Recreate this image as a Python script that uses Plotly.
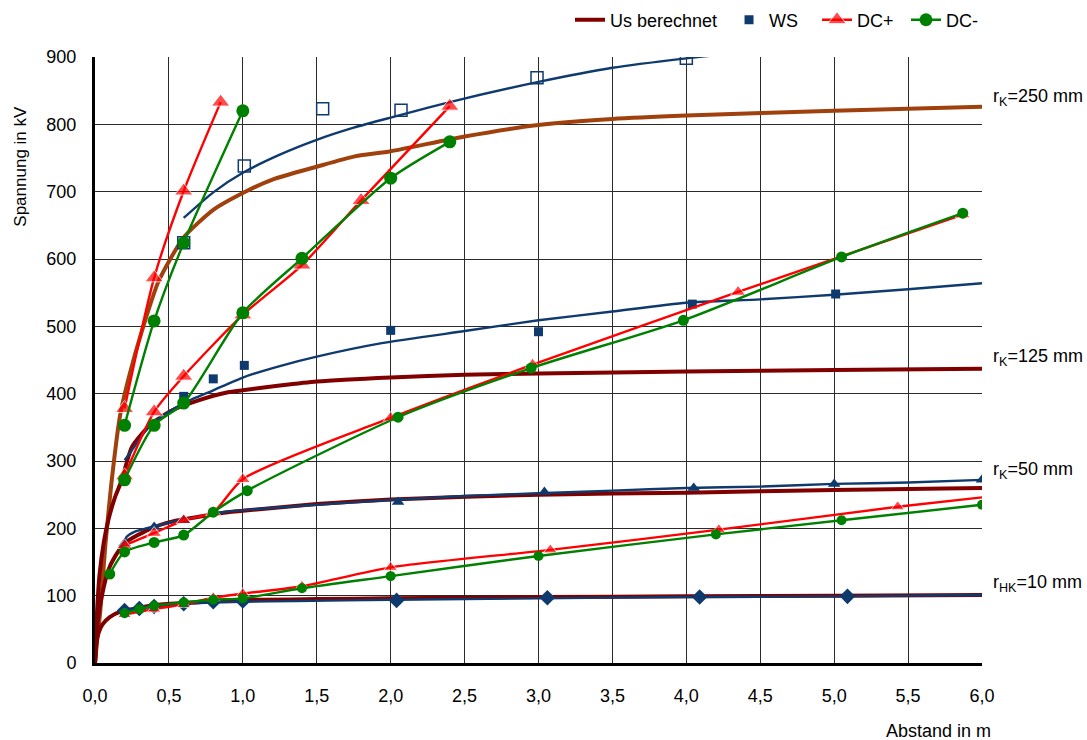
import plotly.graph_objects as go

# ---- calculated breakdown voltage "Us berechnet" for the four electrode radii ----
us250_x = [0, 0.015, 0.035, 0.07, 0.11, 0.17, 0.23, 0.32, 0.43, 0.6, 0.8, 1.0, 1.2, 1.5, 1.75, 2.0, 2.5, 3.0, 3.5, 4.0, 5.0, 6.0]
us250_y = [0, 35, 75, 175, 265, 368, 425, 495, 567, 632, 673, 698, 718, 737, 752, 760, 782, 799, 808, 813, 820, 826]
us125_x = [0, 0.01, 0.03, 0.06, 0.09, 0.135, 0.18, 0.25, 0.38, 0.52, 0.7, 0.9, 1.0, 1.25, 1.5, 2.0, 2.5, 3.0, 4.0, 5.0, 6.0]
us125_y = [0, 60, 130, 180, 212, 246, 271, 321, 355, 375, 390, 402, 405, 412, 418, 424, 428, 430, 433, 435, 437]
us50_x = [0, 0.01, 0.02, 0.045, 0.09, 0.135, 0.2, 0.38, 0.52, 0.9, 1.0, 1.5, 2.0, 3.0, 4.0, 5.0, 6.0]
us50_y = [0, 40, 65, 98, 138, 158, 178, 200, 210, 224, 226, 236, 243, 250, 253, 257, 260]
us10_x = [0, 0.01, 0.025, 0.05, 0.1, 0.18, 0.3, 0.41, 0.6, 0.9, 1.5, 2.0, 3.0, 4.0, 5.0, 6.0]
us10_y = [0, 30, 45, 57, 68, 77, 82, 86, 89, 93, 95, 96, 98, 99, 100, 101]

# ---- AC (WS) fitted curves ----
ws250_fit_x = [0.6, 0.8, 1.0, 1.25, 1.5, 1.75, 2.0, 2.4, 3.0, 3.5, 4.0, 4.3]
ws250_fit_y = [661, 699, 728, 755, 777, 795, 810, 833, 863, 884, 898, 905]
ws125_fit_x = [0.2, 0.25, 0.38, 0.6, 0.8, 1.0, 1.25, 1.5, 1.94, 2.5, 3.0, 3.5, 4.0, 4.5, 5.0, 5.5, 6.0]
ws125_fit_y = [301, 316, 355, 386, 405, 424, 441, 455, 475, 493, 509, 522, 535, 540, 547, 555, 564]
ws50_fit_x = [0.2, 0.213, 0.27, 0.4, 0.58, 0.9, 1.0, 1.5, 2.0, 2.5, 3.0, 3.5, 4.0, 4.5, 5.0, 5.5, 6.0]
ws50_fit_y = [177, 187, 195, 203, 212, 225, 227, 235, 242, 248, 252, 256, 260, 262, 266, 268, 272]
ws10_fit_x = [0.2, 0.6, 1.0, 1.36, 2.0, 3.0, 4.0, 5.0, 6.0]
ws10_fit_y = [79, 88, 91, 92, 94, 96, 98, 99, 101]

# ---- AC (WS) measurements ----
ws250_x = [0.6, 1.01, 1.54, 2.07, 2.99, 4.0]
ws250_y = [624, 738, 823, 821, 869, 898]
ws125_x = [0.6, 0.8, 1.01, 2.0, 3.0, 4.04, 5.01]
ws125_y = [396, 422, 442, 494, 492, 533, 548]
ws50_x = [0.2, 0.4, 0.6, 2.05, 3.04, 4.05, 5.0, 6.0]
ws50_y = [178, 202, 212, 239, 254, 260, 266, 272]
ws10_x = [0.2, 0.3, 0.4, 0.6, 0.8, 1.0, 2.04, 3.06, 4.09, 5.09]
ws10_y = [78, 81, 84, 88, 91, 92, 93, 97, 98, 99]

# ---- DC+ measurements ----
dcp250_x = [0.2, 0.4, 0.6, 0.85]
dcp250_y = [378, 572, 701, 833]
dcp125_x = [0.2, 0.4, 0.6, 1.0, 1.4, 1.8, 2.4]
dcp125_y = [278, 373, 426, 517, 591, 687, 827]
dcp50_x = [0.2, 0.4, 0.6, 0.8, 1.0, 2.0, 2.96, 4.35, 5.87]
dcp50_y = [175, 193, 212, 224, 273, 364, 443, 551, 666]
dcp10_x = [0.2, 0.4, 0.6, 0.8, 1.0, 1.4, 2.0, 3.08, 4.22, 5.43, 6.0]
dcp10_y = [72, 80, 87, 97, 103, 114, 142, 168, 198, 232, 246]

# ---- DC- measurements ----
dcm250_x = [0.2, 0.4, 0.6, 1.0]
dcm250_y = [353, 508, 624, 820]
dcm125_x = [0.2, 0.4, 0.6, 1.0, 1.4, 2.0, 2.4]
dcm125_y = [272, 353, 386, 520, 601, 720, 774]
dcm50_x = [0.1, 0.2, 0.4, 0.6, 0.8, 1.03, 2.05, 2.95, 3.98, 5.05, 5.87]
dcm50_y = [132, 165, 179, 190, 224, 256, 365, 438, 509, 603, 668]
dcm10_x = [0.2, 0.3, 0.4, 0.6, 0.8, 1.0, 1.4, 2.0, 3.0, 4.2, 5.05, 6.0]
dcm10_y = [74, 80, 85, 90, 94, 96, 111, 129, 159, 191, 212, 235]

x_ticks = [0, 0.5, 1, 1.5, 2, 2.5, 3, 3.5, 4, 4.5, 5, 5.5, 6]
y_ticks = [0, 100, 200, 300, 400, 500, 600, 700, 800, 900]
curve_labels = ["r<sub>K</sub>=250 mm", "r<sub>K</sub>=125 mm", "r<sub>K</sub>=50 mm", "r<sub>HK</sub>=10 mm"]
curve_label_y = [840, 454, 286, 118]

FONT = "Liberation Sans, Arial, sans-serif"
BROWN = "#A0400C"
DARKRED = "#800000"
NAVY = "#0F3A6E"
RED = "#FF0000"
GREEN = "#008000"

fig = go.Figure()

# calculated curves
fig.add_trace(go.Scatter(x=us250_x, y=us250_y, mode="lines", name="Us berechnet",
                         line=dict(color=BROWN, width=4, shape="spline", smoothing=0.6),
                         showlegend=False, legendgroup="us"))
for i, (xs, ys) in enumerate([(us125_x, us125_y), (us50_x, us50_y), (us10_x, us10_y)]):
    fig.add_trace(go.Scatter(x=xs, y=ys, mode="lines", name="Us berechnet",
                             line=dict(color=DARKRED, width=4, shape="spline", smoothing=0.6),
                             showlegend=(i == 0), legendgroup="us", legend="legend"))

# WS fitted curves
for xs, ys in [(ws250_fit_x, ws250_fit_y), (ws125_fit_x, ws125_fit_y),
               (ws50_fit_x, ws50_fit_y), (ws10_fit_x, ws10_fit_y)]:
    fig.add_trace(go.Scatter(x=xs, y=ys, mode="lines", name="WS",
                             line=dict(color=NAVY, width=2.4, shape="spline", smoothing=0.6),
                             showlegend=False, legendgroup="ws", hoverinfo="skip"))

# WS measurement points
fig.add_trace(go.Scatter(x=ws250_x, y=ws250_y, mode="markers", name="WS", showlegend=False,
                         legendgroup="ws",
                         marker=dict(symbol="square-open", size=12, color=NAVY, line=dict(width=1.5, color=NAVY))))
fig.add_trace(go.Scatter(x=ws125_x, y=ws125_y, mode="markers", name="WS", showlegend=True,
                         legendgroup="ws", legend="legend2",
                         marker=dict(symbol="square", size=9, color=NAVY)))
fig.add_trace(go.Scatter(x=ws50_x, y=ws50_y, mode="markers", name="WS", showlegend=False,
                         legendgroup="ws", marker=dict(symbol="triangle-up", size=11, color=NAVY)))
fig.add_trace(go.Scatter(x=ws10_x, y=ws10_y, mode="markers", name="WS", showlegend=False,
                         legendgroup="ws", marker=dict(symbol="diamond", size=12, color=NAVY)))

# DC+ series
dcp_sets = [(dcp250_x, dcp250_y, 16), (dcp125_x, dcp125_y, 16), (dcp50_x, dcp50_y, 13), (dcp10_x, dcp10_y, 12)]
for i, (xs, ys, sz) in enumerate(dcp_sets):
    sizes = [sz] * len(xs)
    if i == 3:
        sizes[-1] = 0
    fig.add_trace(go.Scatter(x=xs, y=ys, mode="lines+markers", name="DC+",
                             line=dict(color=RED, width=2.4, shape="spline", smoothing=0.7),
                             marker=dict(symbol="triangle-up", size=sizes, color=RED),
                             showlegend=(i == 0), legendgroup="dcp", legend="legend3"))

# DC- series
dcm_sets = [(dcm250_x, dcm250_y, 13), (dcm125_x, dcm125_y, 13), (dcm50_x, dcm50_y, 11), (dcm10_x, dcm10_y, 10)]
for i, (xs, ys, sz) in enumerate(dcm_sets):
    fig.add_trace(go.Scatter(x=xs, y=ys, mode="lines+markers", name="DC-",
                             line=dict(color=GREEN, width=2.4, shape="spline", smoothing=0.7),
                             marker=dict(symbol="circle", size=sz, color=GREEN),
                             showlegend=(i == 0), legendgroup="dcm", legend="legend4"))

annotations = []
for txt, yv in zip(curve_labels, curve_label_y):
    annotations.append(dict(text=txt, x=1, xref="paper", y=yv, yref="y", xanchor="left",
                            yanchor="middle", xshift=9, showarrow=False,
                            font=dict(family=FONT, size=18, color="black")))
annotations.append(dict(text="Spannung in kV", x=-0.085, xref="paper", y=0.82, yref="paper",
                        textangle=-90, xanchor="center", yanchor="middle", showarrow=False,
                        font=dict(family=FONT, size=17, color="black")))
annotations.append(dict(text="Abstand in m", x=1.0124, xref="paper", y=-0.113, yref="paper",
                        xanchor="right", yanchor="middle", showarrow=False,
                        font=dict(family=FONT, size=18, color="black")))


def legend_box(xpos):
    return dict(orientation="h", x=xpos, y=1.061, xanchor="left", yanchor="middle",
                font=dict(family=FONT, size=18, color="black"), itemwidth=30,
                bgcolor="rgba(0,0,0,0)")


fig.update_layout(
    width=1087, height=740,
    margin=dict(l=95, r=105, t=57, b=77, autoexpand=False),
    paper_bgcolor="white", plot_bgcolor="white",
    separators=",.",
    font=dict(family=FONT, size=18, color="black"),
    showlegend=True,
    legend=legend_box(0.5355),
    legend2=legend_box(0.7148),
    legend3=legend_box(0.8140),
    legend4=legend_box(0.9143),
    annotations=annotations,
)

fig.update_xaxes(range=[0, 6], tickvals=x_ticks, tickformat=".1f",
                 showgrid=True, gridcolor="#2a2a2a", gridwidth=1,
                 showline=True, linecolor="black", linewidth=3,
                 zeroline=False, ticks="", ticklabelstandoff=14,
                 tickfont=dict(family=FONT, size=18, color="black"))
fig.update_yaxes(range=[0, 900], tickvals=y_ticks,
                 showgrid=True, gridcolor="#2a2a2a", gridwidth=1,
                 showline=True, linecolor="black", linewidth=3,
                 zeroline=False, ticks="", ticklabelstandoff=12,
                 tickfont=dict(family=FONT, size=18, color="black"))

fig.write_html("out.html")
